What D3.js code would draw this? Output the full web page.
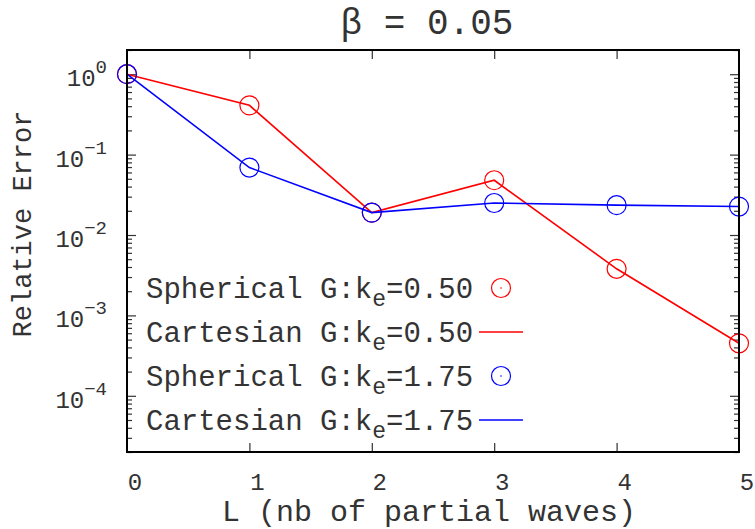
<!DOCTYPE html>
<html>
<head>
<meta charset="utf-8">
<script src="https://cdn.jsdelivr.net/npm/d3@7"></script>
<style>
  body { margin: 0; background: #fff; }
  text { font-family: "Liberation Mono", monospace; fill: #333; }
</style>
</head>
<body>
<script>
// chart data
var nbWaves = [0, 1, 2, 3, 4, 5];
var sphericalLow = [1.0, 0.41, 0.019, 0.048, 0.0038, 0.00045];   // ke = 0.50 points
var cartesianLow = [1.0, 0.41, 0.019, 0.048, 0.0038, 0.00045];   // ke = 0.50 line
var sphericalHigh = [1.0, 0.069, 0.019, 0.025, 0.0235, 0.0226];  // ke = 1.75 points
var cartesianHigh = [1.0, 0.069, 0.019, 0.025, 0.0235, 0.0226];  // ke = 1.75 line
var yExponents = [0, -1, -2, -3, -4];
var legendLabels = ["Spherical G:k", "Cartesian G:k", "Spherical G:k", "Cartesian G:k"];
var legendValues = ["=0.50", "=0.50", "=1.75", "=1.75"];

var svgWidth = 755;
var svgHeight = 529;
var margin = { top: 50, right: 16, bottom: 77, left: 127 };
var chartWidth = svgWidth - margin.left - margin.right;
var chartHeight = svgHeight - margin.top - margin.bottom;

var svg = d3.select("body").append("svg")
  .attr("width", svgWidth)
  .attr("height", svgHeight);

var chartGroup = svg.append("g")
  .attr("transform", "translate(" + margin.left + "," + margin.top + ")");

var xScale = d3.scaleLinear().domain([0, 5]).range([0, chartWidth]);
var yScale = d3.scaleLog().domain([2e-5, 2]).range([chartHeight, 0]);

// major and minor log ticks
var majorTicks = yExponents.map(function (e) { return Math.pow(10, e); });
var minorTicks = [];
for (var e = -5; e <= 0; e++) {
  for (var m = 2; m <= 9; m++) {
    var v = m * Math.pow(10, e);
    if (v >= 2e-5 && v <= 2) minorTicks.push(v);
  }
}

function tickAxis(axis, ticks, size, transform) {
  var g = chartGroup.append("g")
    .attr("transform", transform || null)
    .call(axis.tickValues(ticks).tickSize(size).tickFormat(""));
  g.select(".domain").remove();
  g.selectAll("line").attr("stroke", "#333").attr("stroke-width", 1.2);
}

// ticks point inward on all four sides
tickAxis(d3.axisLeft(yScale), majorTicks, -9);
tickAxis(d3.axisLeft(yScale), minorTicks, -5);
tickAxis(d3.axisRight(yScale), majorTicks, -9, "translate(" + chartWidth + ",0)");
tickAxis(d3.axisRight(yScale), minorTicks, -5, "translate(" + chartWidth + ",0)");
tickAxis(d3.axisBottom(xScale), [1, 2, 3, 4], -9, "translate(0," + chartHeight + ")");
tickAxis(d3.axisTop(xScale), [1, 2, 3, 4], -9);

// y tick labels 10^n
yExponents.forEach(function (e) {
  var t = svg.append("text")
    .attr("x", 107)
    .attr("y", margin.top + yScale(Math.pow(10, e)) + 12)
    .attr("text-anchor", "end")
    .style("font-size", "24px");
  t.append("tspan").text("10");
  t.append("tspan").attr("dy", -13).style("font-size", "19px").text(e === 0 ? "0" : "\u2212" + (-e));
});

// x tick labels, shifted right like the original
nbWaves.forEach(function (d) {
  svg.append("text")
    .attr("x", margin.left + xScale(d) + 8)
    .attr("y", 490)
    .attr("text-anchor", "middle")
    .style("font-size", "24px")
    .text(d);
});

// axis titles and title
svg.append("text")
  .attr("x", 429)
  .attr("y", 521)
  .attr("text-anchor", "middle")
  .style("font-size", "30px")
  .text("L (nb of partial waves)");

svg.append("text")
  .attr("transform", "translate(31,224) rotate(-90)")
  .attr("text-anchor", "middle")
  .style("font-size", "27px")
  .text("Relative Error");

svg.append("text")
  .attr("x", 427)
  .attr("y", 34)
  .attr("text-anchor", "middle")
  .style("font-size", "36px")
  .text("\u03B2 = 0.05");

// lines and points
var drawLine = d3.line()
  .x(function (d, i) { return xScale(nbWaves[i]); })
  .y(function (d) { return yScale(d); });

function drawPoints(values, color) {
  chartGroup.append("g").selectAll("circle")
    .data(values)
    .enter().append("circle")
    .attr("cx", function (d, i) { return xScale(nbWaves[i]); })
    .attr("cy", function (d) { return yScale(d); })
    .attr("r", 9.5)
    .attr("fill", "none")
    .attr("stroke", color)
    .attr("stroke-width", 1.2);
}

function drawSeries(values, color) {
  chartGroup.append("path")
    .attr("d", drawLine(values))
    .attr("fill", "none")
    .attr("stroke", color)
    .attr("stroke-width", 1.6);
}

drawPoints(sphericalLow, "#ff0000");
drawSeries(cartesianLow, "#ff0000");
drawPoints(sphericalHigh, "#0000ff");
drawSeries(cartesianHigh, "#0000ff");

// frame
chartGroup.append("rect")
  .attr("width", chartWidth)
  .attr("height", chartHeight)
  .attr("fill", "none")
  .attr("stroke", "#000")
  .attr("stroke-width", 2);

// legend
var legendColors = ["#ff0000", "#ff0000", "#0000ff", "#0000ff"];
legendLabels.forEach(function (label, i) {
  var rowY = 288 + i * 44;
  var t = svg.append("text")
    .attr("x", 146)
    .attr("y", rowY + 10)
    .style("font-size", "29px");
  t.append("tspan").text(label);
  t.append("tspan").attr("dy", 8).style("font-size", "23px").text("e");
  t.append("tspan").attr("dy", -8).text(legendValues[i]);

  if (i % 2 === 0) {
    svg.append("circle")
      .attr("cx", 501).attr("cy", rowY).attr("r", 9.5)
      .attr("fill", "none").attr("stroke", legendColors[i]).attr("stroke-width", 1.2);
    svg.append("circle")
      .attr("cx", 501).attr("cy", rowY).attr("r", 0.8)
      .attr("fill", legendColors[i]);
  } else {
    svg.append("line")
      .attr("x1", 479).attr("x2", 523)
      .attr("y1", rowY).attr("y2", rowY)
      .attr("stroke", legendColors[i]).attr("stroke-width", 1.6);
  }
});
</script>
</body>
</html>
